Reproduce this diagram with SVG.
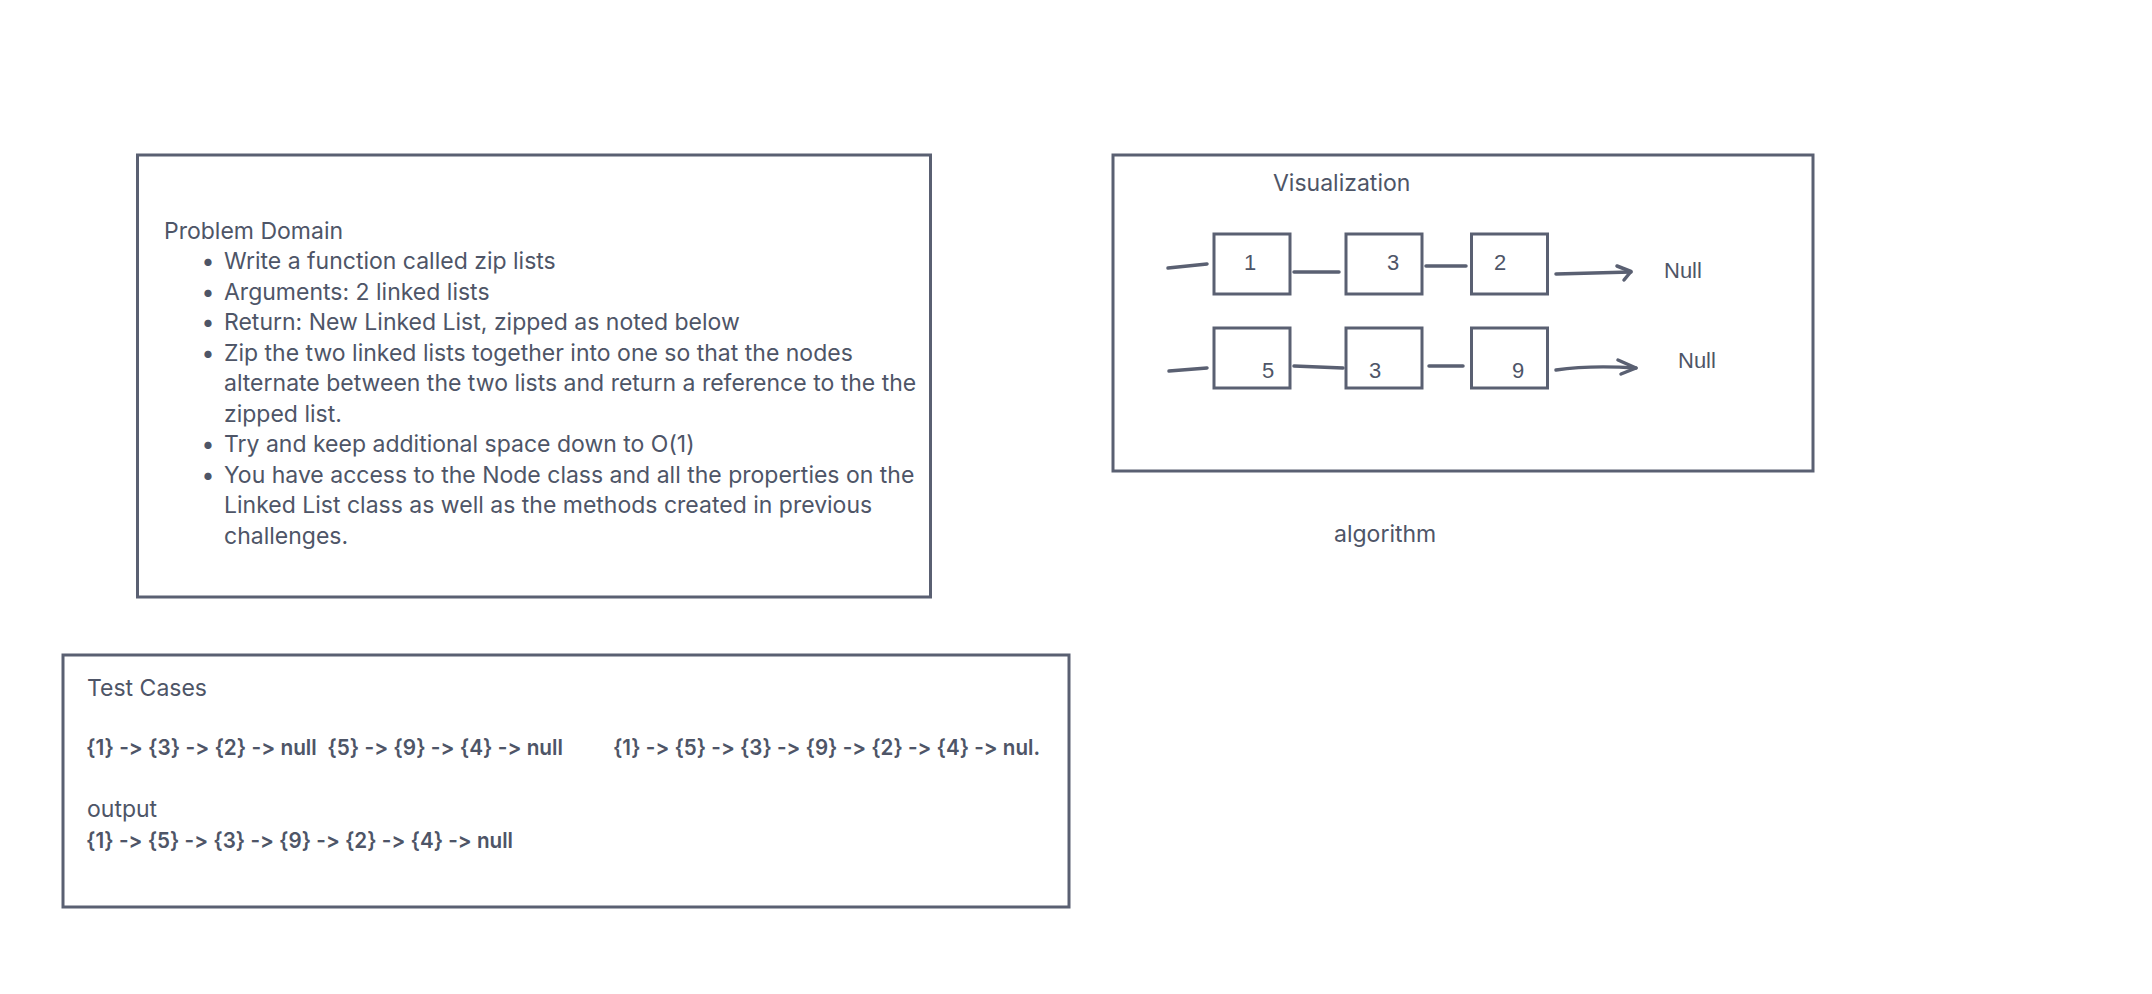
<svg xmlns="http://www.w3.org/2000/svg" width="2152" height="994" viewBox="0 0 2152 994">
<style>
.frame{fill:none;stroke:#5a6072;stroke-width:3}
.node{fill:#ffffff;stroke:#5a6072;stroke-width:3}
.t{font-family:Inter,"Noto Sans","Liberation Sans",sans-serif;font-size:23px;fill:#4e5567;font-feature-settings:"calt" 0,"liga" 0;font-variant-ligatures:none}
.b{font-family:Inter,"Noto Sans","Liberation Sans",sans-serif;font-size:22px;font-weight:600;fill:#4e5567;font-feature-settings:"calt" 0,"liga" 0;font-variant-ligatures:none}
.d{font-family:"Liberation Sans",Arial,sans-serif;font-size:22px;fill:#4e5567}
.n{font-family:"Liberation Sans",Arial,sans-serif;font-size:22px;fill:#4e5567}
.c{fill:none;stroke:#5a6072;stroke-width:3.5;stroke-linecap:round;stroke-linejoin:round}
</style>
<rect width="2152" height="994" fill="#ffffff"/>

<g id="problem-domain">
<rect class="frame" x="137.5" y="155" width="793" height="442"/>
<text class="t" x="164" y="239">Problem Domain</text>
<text class="t" x="208" y="269" text-anchor="middle">•</text>
<text class="t" x="224" y="269">Write a function called zip lists</text>
<text class="t" x="208" y="300" text-anchor="middle">•</text>
<text class="t" x="224" y="300">Arguments: 2 linked lists</text>
<text class="t" x="208" y="330" text-anchor="middle">•</text>
<text class="t" x="224" y="330">Return: New Linked List, zipped as noted below</text>
<text class="t" x="208" y="361" text-anchor="middle">•</text>
<text class="t" x="224" y="361">Zip the two linked lists together into one so that the nodes</text>
<text class="t" x="224" y="391">alternate between the two lists and return a reference to the the</text>
<text class="t" x="224" y="422">zipped list.</text>
<text class="t" x="208" y="452" text-anchor="middle">•</text>
<text class="t" x="224" y="452">Try and keep additional space down to O(1)</text>
<text class="t" x="208" y="483" text-anchor="middle">•</text>
<text class="t" x="224" y="483">You have access to the Node class and all the properties on the</text>
<text class="t" x="224" y="513">Linked List class as well as the methods created in previous</text>
<text class="t" x="224" y="544">challenges.</text>
</g>

<g id="visualization">
<rect class="frame" x="1113" y="155" width="700" height="316"/>
<text class="t" x="1273" y="191">Visualization</text>
</g>

<g id="node-1"><rect class="node" x="1214" y="234" width="76" height="60"/><text class="d" x="1244" y="270">1</text></g>
<g id="node-3a"><rect class="node" x="1346" y="234" width="76" height="60"/><text class="d" x="1387" y="270">3</text></g>
<g id="node-2"><rect class="node" x="1471.5" y="234" width="76" height="60"/><text class="d" x="1494" y="270">2</text></g>
<g id="node-5"><rect class="node" x="1214" y="328" width="76" height="60"/><text class="d" x="1262" y="378">5</text></g>
<g id="node-3b"><rect class="node" x="1346" y="328" width="76" height="60"/><text class="d" x="1369" y="378">3</text></g>
<g id="node-9"><rect class="node" x="1471.5" y="328" width="76" height="60"/><text class="d" x="1512" y="378">9</text></g>
<g id="null-1"><text class="n" x="1664" y="278">Null</text></g>
<g id="null-2"><text class="n" x="1678" y="368">Null</text></g>

<g id="connectors">
<path class="c" d="M1168,268 L1207,264"/>
<path class="c" d="M1294,272 L1339,272"/>
<path class="c" d="M1426,266 L1466,266"/>
<path class="c" d="M1556,274 L1631,272"/>
<path class="c" d="M1617,266 L1631,271.5 L1624,280"/>
<path class="c" d="M1169,371 L1207,368"/>
<path class="c" d="M1294,366 L1343,368"/>
<path class="c" d="M1429,366 L1463,366"/>
<path class="c" d="M1556,370 Q1590,365 1636,368"/>
<path class="c" d="M1618,360 L1636,368 L1621,374"/>
</g>

<g id="algorithm">
<text class="t" x="1334" y="542">algorithm</text>
</g>

<g id="test-cases">
<rect class="frame" x="63" y="655" width="1006" height="252"/>
<text class="t" x="87" y="696">Test Cases</text>
<text class="b" x="86" y="755" textLength="477" lengthAdjust="spacingAndGlyphs" xml:space="preserve">{1} -&gt; {3} -&gt; {2} -&gt; null  {5} -&gt; {9} -&gt; {4} -&gt; null</text>
<text class="b" x="613" y="755" textLength="427" lengthAdjust="spacingAndGlyphs">{1} -&gt; {5} -&gt; {3} -&gt; {9} -&gt; {2} -&gt; {4} -&gt; nul.</text>
<text class="t" x="87" y="817">output</text>
<text class="b" x="86" y="848" textLength="427" lengthAdjust="spacingAndGlyphs">{1} -&gt; {5} -&gt; {3} -&gt; {9} -&gt; {2} -&gt; {4} -&gt; null</text>
</g>
</svg>
